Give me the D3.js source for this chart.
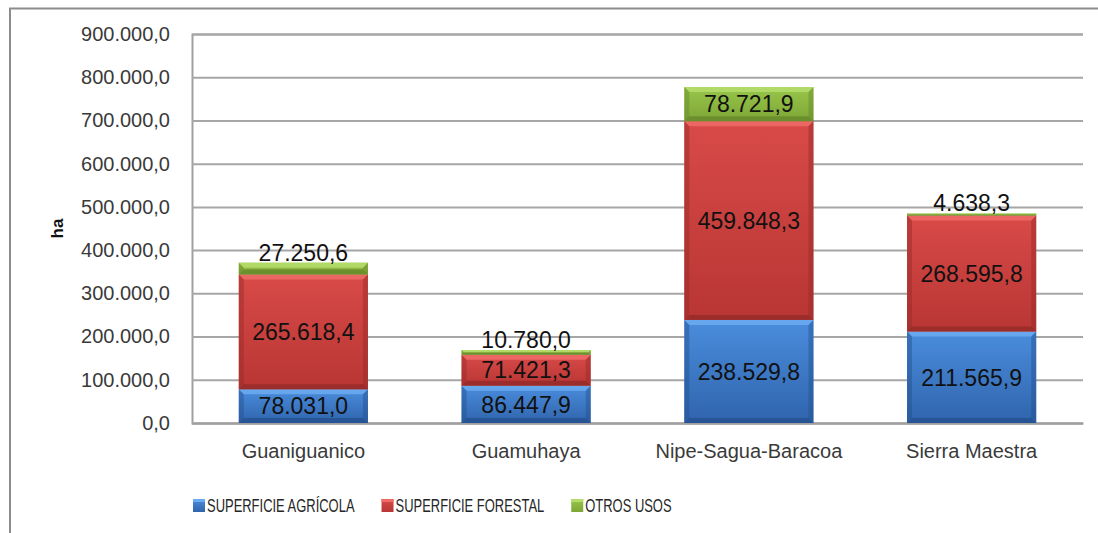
<!DOCTYPE html>
<html>
<head>
<meta charset="utf-8">
<script src="https://cdn.jsdelivr.net/npm/d3@7"></script>
<style>
  body { margin: 0; background: #fff; }
  svg { display: block; font-family: "Liberation Sans", Arial, sans-serif; }
</style>
</head>
<body>
<svg id="chart" width="1098" height="533"></svg>
<script>
const regions = ['Guaniguanico', 'Guamuhaya', 'Nipe-Sagua-Baracoa', 'Sierra Maestra'];
const seriesNames = ['SUPERFICIE AGRÍCOLA', 'SUPERFICIE FORESTAL', 'OTROS USOS'];
const agricola = [78031.0, 86447.9, 238529.8, 211565.9];
const forestal = [265618.4, 71421.3, 459848.3, 268595.8];
const otros = [27250.6, 10780.0, 78721.9, 4638.3];
const yTicks = [0, 100000, 200000, 300000, 400000, 500000, 600000, 700000, 800000, 900000];

// main, light (top bevel), dark (bottom)
const palette = [
	{top: '#4a8ddc', bottom: '#3064ad', light: '#6aaaf0', dark: '#24508e'},
	{top: '#d84a48', bottom: '#b83634', light: '#ee6a66', dark: '#942a28'},
	{top: '#98c64a', bottom: '#7ea636', light: '#b4dc6a', dark: '#66882a'}
];

const es = d3.formatLocale({decimal: ',', thousands: '.', grouping: [3], currency: ['', '']});
const fmt = es.format(',.1f');

const svg = d3.select('#chart');
const plotLeft = 192, plotRight = 1083, plotTop = 34, plotBottom = 423;

// outer frame (only top and left edges fall inside the picture)
svg.append('rect')
	.attr('x', 10).attr('y', 8.5)
	.attr('width', 1200).attr('height', 700)
	.attr('fill', 'none')
	.attr('stroke', '#8c8c8c')
	.attr('stroke-width', 2);

const x = d3.scaleBand().domain(regions).range([plotLeft, plotRight]).paddingInner(0.42).paddingOuter(0.21);
const y = d3.scaleLinear().domain([0, 900000]).range([plotBottom, plotTop]);

const defs = svg.append('defs');
palette.forEach((p, i) => {
	const grad = defs.append('linearGradient')
		.attr('id', `grad${i}`)
		.attr('x1', 0).attr('y1', 0).attr('x2', 0).attr('y2', 1);
	grad.append('stop').attr('offset', '0%').attr('stop-color', p.top);
	grad.append('stop').attr('offset', '100%').attr('stop-color', p.bottom);
});

// grid + y axis
const yAxis = svg.append('g')
	.attr('transform', `translate(${plotLeft},0)`)
	.call(d3.axisLeft(y).tickValues(yTicks).tickFormat(fmt).tickSize(-(plotRight - plotLeft)).tickPadding(22));
yAxis.select('.domain').attr('stroke', '#a0a0a0').attr('stroke-width', 2);
yAxis.selectAll('.tick line').attr('stroke', '#a6a6a6').attr('stroke-width', 2);
yAxis.selectAll('.tick text')
	.attr('fill', '#3a3a3a')
	.style('font-size', '20px');

svg.append('text')
	.attr('transform', `translate(63,${(plotTop + plotBottom) / 2}) rotate(-90)`)
	.attr('text-anchor', 'middle')
	.attr('font-weight', 'bold')
	.attr('font-size', '17px')
	.attr('fill', '#111')
	.text('ha');

// x axis
const xAxis = svg.append('g')
	.attr('transform', `translate(0,${plotBottom})`)
	.call(d3.axisBottom(x).tickSize(0).tickPadding(21));
xAxis.select('.domain').attr('stroke', '#a0a0a0').attr('stroke-width', 2);
xAxis.selectAll('.tick text')
	.attr('fill', '#3a3a3a')
	.style('font-size', '20px');

// stacked data
const table = regions.map((r, i) => ({region: r, s0: agricola[i], s1: forestal[i], s2: otros[i]}));
const stack = d3.stack().keys(['s0', 's1', 's2'])(table);

function bevelBar(g, x0, y0, w, h, p, i) {
	const b = Math.min(5, h / 2);
	g.append('rect')
		.attr('x', x0).attr('y', y0).attr('width', w).attr('height', h)
		.attr('fill', `url(#grad${i})`);
	const poly = (pts, fill, op) => g.append('polygon')
		.attr('points', pts.map(d => d.join(',')).join(' '))
		.attr('fill', fill).attr('opacity', op);
	poly([[x0, y0], [x0 + w, y0], [x0 + w - b, y0 + b], [x0 + b, y0 + b]], p.light, 0.9);
	poly([[x0, y0 + h], [x0 + w, y0 + h], [x0 + w - b, y0 + h - b], [x0 + b, y0 + h - b]], p.dark, 0.8);
	poly([[x0, y0], [x0 + b, y0 + b], [x0 + b, y0 + h - b], [x0, y0 + h]], p.dark, 0.45);
	poly([[x0 + w, y0], [x0 + w - b, y0 + b], [x0 + w - b, y0 + h - b], [x0 + w, y0 + h]], p.dark, 0.45);
}

const barsLayer = svg.append('g');
stack.forEach((layer, i) => {
	layer.forEach(d => {
		const x0 = x(d.data.region);
		const y0 = y(d[1]);
		const h = y(d[0]) - y(d[1]);
		bevelBar(barsLayer.append('g'), x0, y0, x.bandwidth(), h, palette[i], i);
	});
});

// value labels
const labels = svg.append('g')
	.attr('font-size', '23px')
	.attr('fill', '#111')
	.attr('text-anchor', 'middle');
stack.forEach((layer, i) => {
	layer.forEach(d => {
		const cx = x(d.data.region) + x.bandwidth() / 2;
		const h = y(d[0]) - y(d[1]);
		const t = labels.append('text').attr('x', cx).text(fmt(d[1] - d[0]));
		if (h < 22) {
			t.attr('y', y(d[1]) - 2);
		} else {
			t.attr('y', (y(d[0]) + y(d[1])) / 2).attr('dy', '0.36em');
		}
	});
});

// legend
const legend = svg.append('g').attr('transform', 'translate(193,506)');
let lx = 0;
seriesNames.forEach((name, i) => {
	const item = legend.append('g').attr('transform', `translate(${lx},0)`);
	const p = palette[i];
	item.append('rect')
		.attr('x', 0).attr('y', -7).attr('width', 12).attr('height', 13)
		.attr('fill', `url(#grad${i})`);
	item.append('rect')
		.attr('x', 0).attr('y', -7).attr('width', 12).attr('height', 3)
		.attr('fill', p.light);
	const txt = item.append('text')
		.attr('transform', 'translate(14,0) scale(0.72,1)')
		.attr('dy', '0.35em')
		.attr('font-size', '18px')
		.attr('fill', '#262626')
		.text(name);
	lx += 14 + txt.node().getComputedTextLength() * 0.72 + 27;
});
</script>
</body>
</html>
